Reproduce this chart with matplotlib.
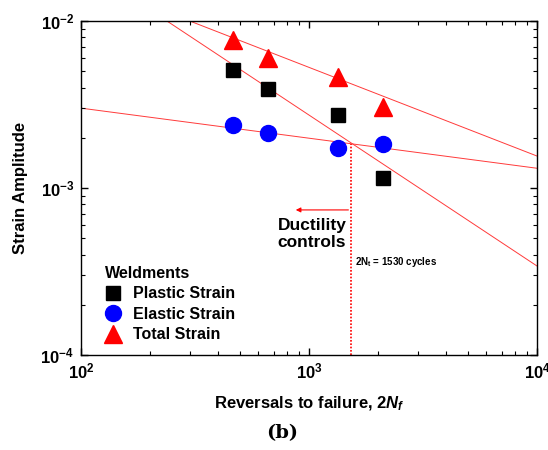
import numpy as np
import matplotlib.pyplot as plt
from matplotlib.ticker import LogLocator, NullFormatter

plt.rcParams['font.family'] = ['Liberation Sans', 'DejaVu Sans']
plt.rcParams['mathtext.fontset'] = 'custom'
plt.rcParams['mathtext.rm'] = 'Liberation Sans:bold'
plt.rcParams['mathtext.it'] = 'Liberation Sans:bold:italic'
plt.rcParams['mathtext.bf'] = 'Liberation Sans:bold'

# Data
reversals = [464, 661, 1340, 2113]
plastic_strain = [5.09e-3, 3.92e-3, 2.73e-3, 1.15e-3]
elastic_strain = [2.38e-3, 2.13e-3, 1.74e-3, 1.83e-3]
total_strain = [7.7e-3, 6.0e-3, 4.63e-3, 3.05e-3]

# Fitted power laws: strain = coef * (2Nf)**expo
elastic_fit = (6.90e-3, -0.180)
plastic_fit = (1.41, -0.904)
total_fit = (0.207, -0.531)
transition_life = 1530

fig = plt.figure(figsize=(5.48, 4.5), dpi=100)
ax = fig.add_axes([0.148, 0.211, 0.832, 0.742])
ax.set_xscale('log')
ax.set_yscale('log')
ax.set_xlim(1e2, 1e4)
ax.set_ylim(1e-4, 1e-2)

xx = np.logspace(2, 4, 200)
for coef, expo in (elastic_fit, plastic_fit, total_fit):
    ax.plot(xx, coef*xx**expo, color='#ff3a3a', lw=0.7, zorder=1)

ax.plot(reversals, plastic_strain, 's', color='black', ms=10,
        label='Plastic Strain', zorder=3)
ax.plot(reversals, elastic_strain, 'o', color='blue', ms=11.5,
        label='Elastic Strain', zorder=3)
ax.plot(reversals, total_strain, '^', color='red', ms=12.5,
        label='Total Strain', zorder=3)

# transition life marker
y_int = elastic_fit[0]*transition_life**elastic_fit[1]
ax.plot([transition_life, transition_life], [1e-4, y_int], color='red',
        lw=1.2, ls=(0, (1.0, 1.0)), zorder=2)
ax.annotate('', xy=(850, 7.4e-4), xytext=(transition_life, 7.4e-4),
            arrowprops=dict(arrowstyle='-|>', color='red', lw=0.8,
                            mutation_scale=7))
ax.text(1030, 6.6e-4, 'Ductility\ncontrols', ha='center', va='top',
        fontsize=12.5, fontweight='bold', linespacing=1.15)
ax.text(1590, 3.6e-4, r'2N$_\mathregular{t}$ = 1530 cycles', fontsize=7,
        fontweight='bold', va='center')

leg = ax.legend(loc='lower left', bbox_to_anchor=(0.02, -0.005),
                title='Weldments', frameon=False, fontsize=11.5,
                title_fontproperties={'weight': 'bold', 'size': 11.5},
                handletextpad=0.8, labelspacing=0.35, borderaxespad=0.5,
                handlelength=1.0)
leg._legend_box.align = 'left'
for t in leg.get_texts():
    t.set_fontweight('bold')

ax.tick_params(which='both', direction='in', top=True, right=True)
ax.tick_params(which='major', length=5, width=1, labelsize=12, pad=5)
ax.tick_params(which='minor', length=3, width=0.8)
ax.xaxis.set_minor_locator(LogLocator(base=10, subs=np.arange(2, 10)))
ax.yaxis.set_minor_locator(LogLocator(base=10, subs=np.arange(2, 10)))
ax.xaxis.set_minor_formatter(NullFormatter())
ax.yaxis.set_minor_formatter(NullFormatter())
for lab in ax.get_xticklabels() + ax.get_yticklabels():
    lab.set_fontweight('bold')
for sp in ax.spines.values():
    sp.set_linewidth(1.0)

ax.set_ylabel('Strain Amplitude', fontsize=12, fontweight='bold', labelpad=9)
ax.set_xlabel(r'Reversals to failure, $\mathit{2N_f}$', fontsize=12,
              fontweight='bold', labelpad=9)
fig.text(0.515, 0.038, '(b)', ha='center', va='center', fontsize=14,
         fontweight='bold', family='DejaVu Serif')

fig.savefig('out.png', dpi=100)
